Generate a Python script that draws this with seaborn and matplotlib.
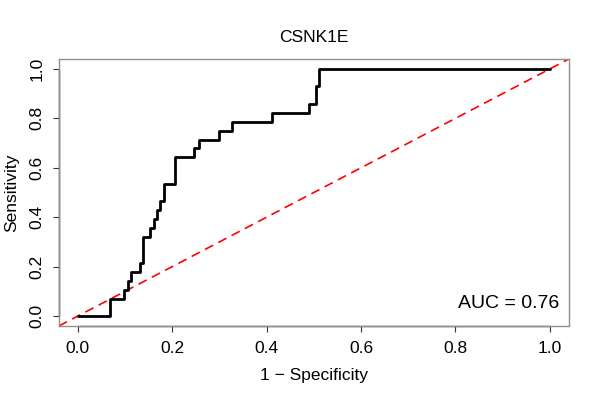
import matplotlib
matplotlib.use("Agg")
import matplotlib.pyplot as plt
import seaborn as sns
import pandas as pd

# ROC curve (1 - specificity, sensitivity), step corners
fpr = [0.0, 0.068, 0.098, 0.107, 0.112, 0.133, 0.138, 0.153, 0.161, 0.167,
       0.174, 0.182, 0.207, 0.246, 0.257, 0.299, 0.327, 0.412, 0.490, 0.504,
       0.511, 1.0]
tpr = [0.0, 0.071, 0.107, 0.143, 0.179, 0.214, 0.321, 0.357, 0.393, 0.429,
       0.464, 0.536, 0.643, 0.679, 0.714, 0.750, 0.786, 0.821, 0.857, 0.929,
       1.0, 1.0]
gene = "CSNK1E"
auc = 0.76
ticks = [0.0, 0.2, 0.4, 0.6, 0.8, 1.0]

df = pd.DataFrame({"fpr": fpr, "tpr": tpr})

sns.set_style("white", {"text.color": "black", "axes.labelcolor": "black",
                        "xtick.color": "black", "ytick.color": "black"})
plt.rcParams["font.family"] = ["Liberation Sans", "DejaVu Sans"]

fig = plt.figure(figsize=(6, 4), dpi=100)
ax = fig.add_axes([0.098, 0.185, 0.85, 0.6675])

# diagonal reference line
ax.axline((0, 0), (1, 1), color="red", linestyle=(0, (5.5, 3.5)), linewidth=1.2)
sns.lineplot(data=df, x="fpr", y="tpr", ax=ax, sort=False, estimator=None,
             drawstyle="steps-post", color="black", linewidth=2.0)

ax.set_xlim(-0.04, 1.04)
ax.set_ylim(-0.04, 1.04)
ax.set_xticks(ticks)
ax.set_yticks(ticks)
ax.set_xticklabels([f"{t:.1f}" for t in ticks])
ax.set_yticklabels([f"{t:.1f}" for t in ticks], rotation=90, va="center")
ax.tick_params(axis="both", direction="out", length=4.5, width=0.8,
               color="#333333", labelcolor="black", labelsize=12.5, pad=6,
               bottom=True, left=True)

for s in ax.spines.values():
    s.set_color("#909090")
    s.set_linewidth(1.0)
# R-style axis lines spanning only the tick range
ax.plot([0, 1], [-0.04, -0.04], color="#333333", linewidth=1.0, clip_on=False)
ax.plot([-0.04, -0.04], [0, 1], color="#333333", linewidth=1.0, clip_on=False)

ax.set_xlabel("1 \u2212 Specificity", fontsize=12.5, labelpad=9, color="black")
ax.set_ylabel("Sensitivity", fontsize=12.5, labelpad=7, color="black")
ax.set_title(gene, fontsize=12.5, pad=12, color="black")
ax.text(1.02, 0.05, f"AUC = {auc:.2f}", ha="right", va="center", fontsize=14,
        color="black")

fig.savefig("out.png", dpi=100)
